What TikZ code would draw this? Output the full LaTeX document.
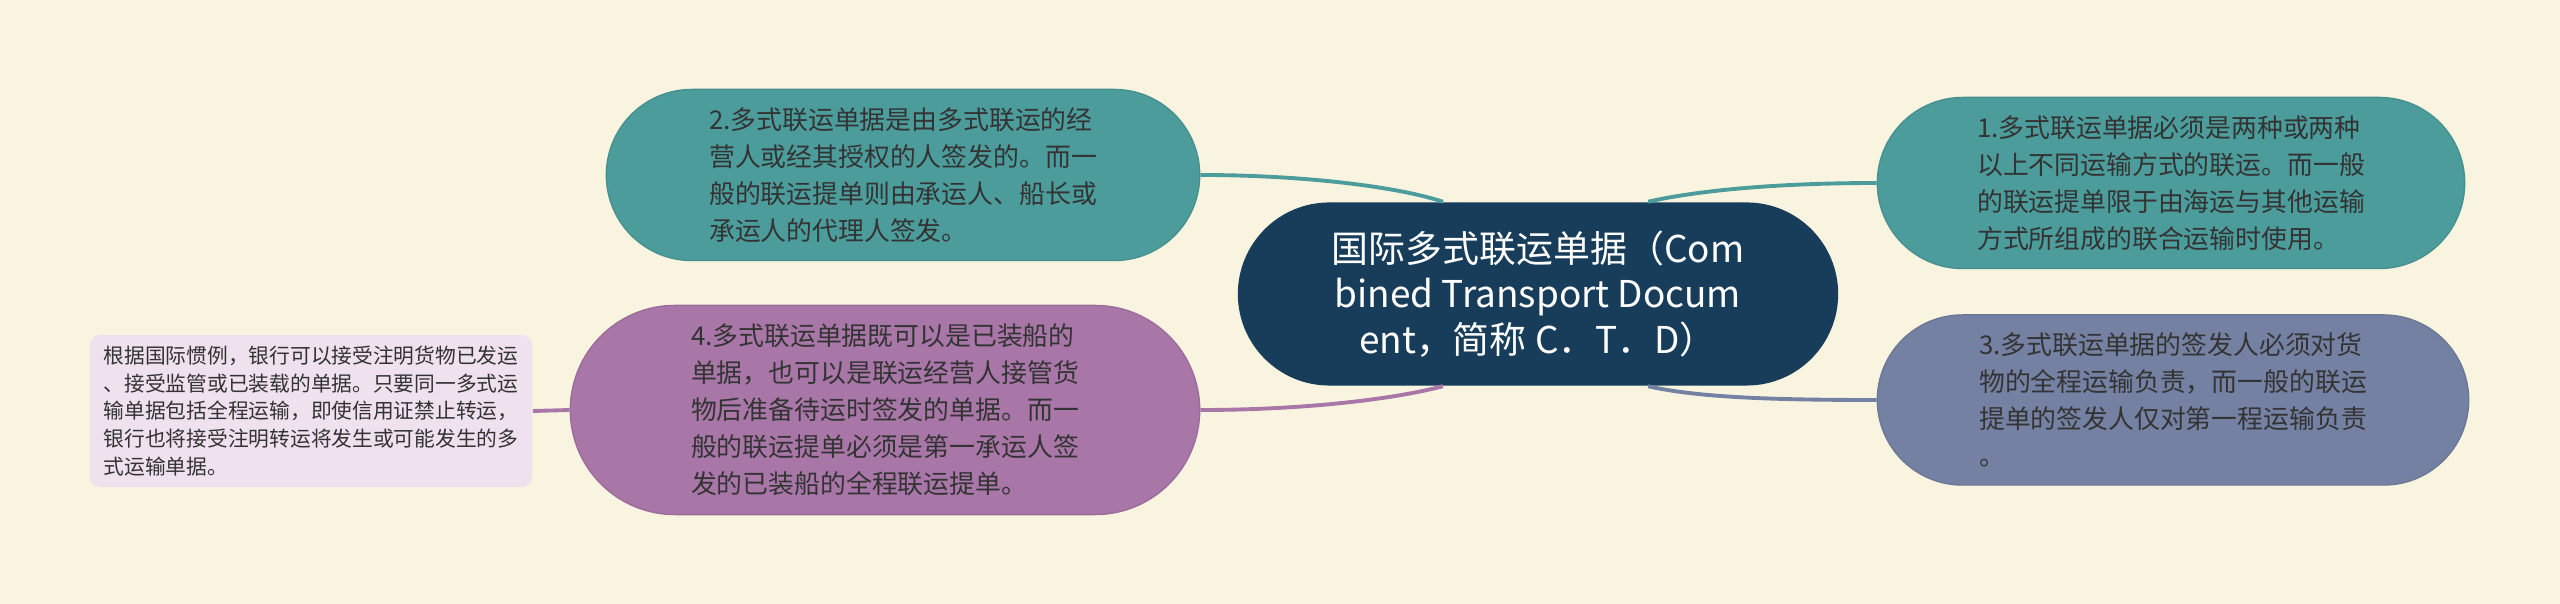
\documentclass[tikz,border=0pt]{standalone}
\usepackage{fontspec}
\newfontfamily\cjk{Noto Sans CJK SC}
\usetikzlibrary{shapes.misc}
\definecolor{paper}{HTML}{F9F4E0}
\definecolor{navy}{HTML}{173D5B}
\definecolor{sea}{HTML}{4C9C9C}
\definecolor{slate}{HTML}{7481A2}
\definecolor{plum}{HTML}{A877A8}
\definecolor{blush}{HTML}{EFE1EE}
\definecolor{ink}{HTML}{333333}
\begin{document}
\begin{tikzpicture}[x=0.01cm, y=-0.01cm,
    bubble/.style={shape=rounded rectangle, fill=#1, draw=#1!92!black, line width=0.4pt,
      text=ink, align=left, inner sep=0pt, font=\cjk\fontsize{7.35}{10.5}\selectfont},
    link/.style={draw=#1, line width=1.1pt}]
    \fill[paper] (0,0) rectangle (2560,604);

    \node[shape=rounded rectangle, fill=navy, text=white, align=center, inner sep=0pt,
      minimum width=6cm, minimum height=1.83cm, font=\cjk\fontsize{10.5}{13}\selectfont]
      (ctd) at (1538,294) {国际多式联运单据（Com\\bined Transport Docum\\ent，简称 C．T．D）};

    \node[bubble=sea, minimum width=5.93cm, minimum height=1.71cm] (n2) at (903,175)
      {2.多式联运单据是由多式联运的经\\营人或经其授权的人签发的。而一\\般的联运提单则由承运人、船长或\\承运人的代理人签发。};
    \node[bubble=sea, minimum width=5.87cm, minimum height=1.71cm] (n1) at (2171,183)
      {1.多式联运单据必须是两种或两种\\以上不同运输方式的联运。而一般\\的联运提单限于由海运与其他运输\\方式所组成的联合运输时使用。};
    \node[bubble=slate, minimum width=5.91cm, minimum height=1.70cm] (n3) at (2173,400)
      {3.多式联运单据的签发人必须对货\\物的全程运输负责，而一般的联运\\提单的签发人仅对第一程运输负责\\。};
    \node[bubble=plum, minimum width=6.29cm, minimum height=2.09cm] (n4) at (885,410)
      {4.多式联运单据既可以是已装船的\\单据，也可以是联运经营人接管货\\物后准备待运时签发的单据。而一\\般的联运提单必须是第一承运人签\\发的已装船的全程联运提单。};
    \node[shape=rectangle, rounded corners=0.1cm, fill=blush, text=ink, align=left, inner sep=0pt,
      minimum width=4.42cm, minimum height=1.52cm, font=\cjk\fontsize{5.9}{7.9}\selectfont]
      (leaf) at (311,411)
      {根据国际惯例，银行可以接受注明货物已发运\\、接受监管或已装载的单据。只要同一多式运\\输单据包括全程运输，即使信用证禁止转运，\\银行也将接受注明转运将发生或可能发生的多\\式运输单据。};

    \draw[link=sea] ([xshift=-0.95cm]ctd.north) .. controls (1395,186) and (1300,175) .. (n2.east);
    \draw[link=sea] ([xshift=1.1cm]ctd.north) .. controls (1700,190) and (1780,183) .. (n1.west);
    \draw[link=slate] ([xshift=1.1cm]ctd.south) .. controls (1700,398) and (1780,400) .. (n3.west);
    \draw[link=plum] ([xshift=-0.95cm]ctd.south) .. controls (1390,400) and (1300,410) .. (n4.east);
    \draw[link=plum] (n4.west) -- (leaf.east);
\end{tikzpicture}
\end{document}
